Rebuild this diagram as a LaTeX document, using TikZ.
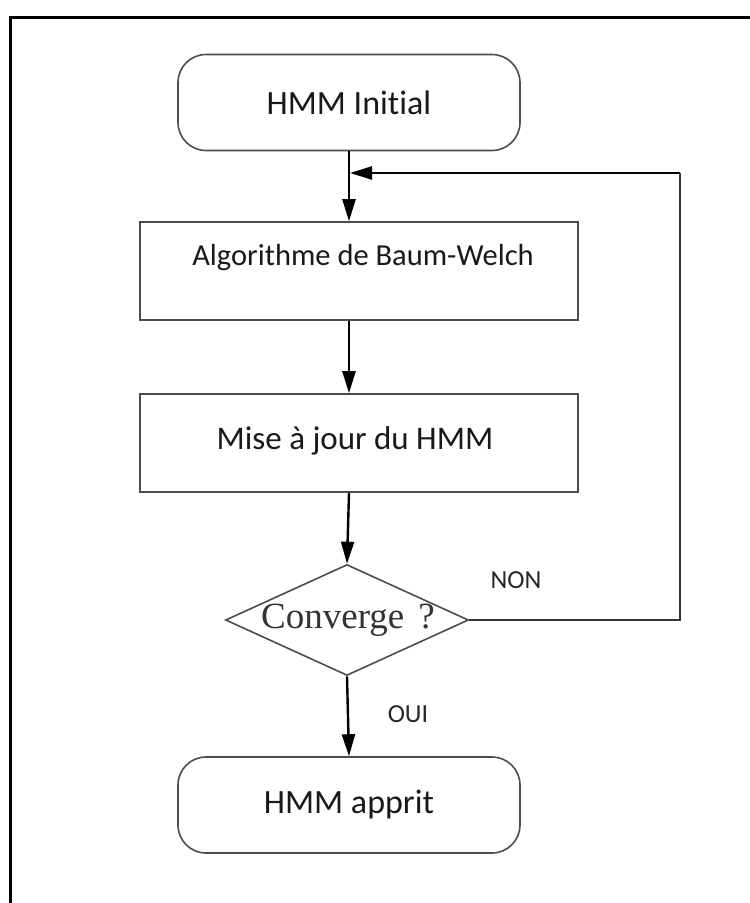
\documentclass[tikz,border=0pt]{standalone}
\usepackage{fontspec}
\setmainfont[Ligatures=NoCommon]{Carlito}
\newfontfamily\timesf{Liberation Serif}
\usetikzlibrary{shapes.geometric,arrows.meta}
\begin{document}
\begin{tikzpicture}[x=1pt,y=-1pt,
  boxline/.style={draw=black!70,line width=1.6pt},
  roundbox/.style={boxline,rounded corners=28pt,minimum width=342pt,minimum height=96pt,inner sep=0pt,font=\fontsize{34}{38}\selectfont,text=black!90},
  rectbox/.style={boxline,minimum width=438pt,minimum height=98pt,inner sep=0pt},
  txt/.style={text=black!90,inner sep=0pt},
  flow/.style={draw=black,line width=2.4pt,-{Triangle[length=22pt,width=13pt]}},
  lbl/.style={font=\fontsize{26}{30}\selectfont,text=black!85,inner sep=0pt}
]
\useasboundingbox (0,0) rectangle (750,903);
\draw[line width=3pt] (10,903) -- (10,17) -- (750,17);

\node[roundbox] (init) at (349,102.5) {HMM Initial};
\node[rectbox] (bw) at (359,271) {};
\node[txt,font=\fontsize{30.5}{34}\selectfont] (bwt) at (363,258) {Algorithme de Baum-Welch};
\node[rectbox] (maj) at (359,443) {};
\node[txt,font=\fontsize{33}{36}\selectfont] (majt) at (355,441) {Mise à jour du HMM};
\node[diamond,boxline,minimum width=243pt,minimum height=111pt,inner sep=0pt] (dec) at (347,620) {};
\node[font=\timesf\fontsize{37}{40}\selectfont,text=black!80] (dect) at (348,620) {Converge\hspace{14pt}?};
\node[roundbox] (fin) at (349,805) {HMM apprit};

\coordinate (j) at (349,173);
\coordinate (r1) at (680,620);
\coordinate (r2) at (680,173);

\draw[line width=2.4pt] (init.south -| j) -- (j);
\draw[flow] (j) -- (bw.north -| j);
\draw[flow] (bw.south -| j) -- (maj.north -| j);
\draw[flow] (maj.south -| j) -- (dec.north);
\draw[flow] (dec.south) -- (fin.north);
\draw[draw=black!80,line width=2pt] (dec.east) -- (r1) -- (r2);
\draw[flow] (r2) -- ([xshift=1pt]j);

\node[lbl] (non) at (516,580) {NON};
\node[lbl] (oui) at (408,714) {OUI};
\end{tikzpicture}
\end{document}
